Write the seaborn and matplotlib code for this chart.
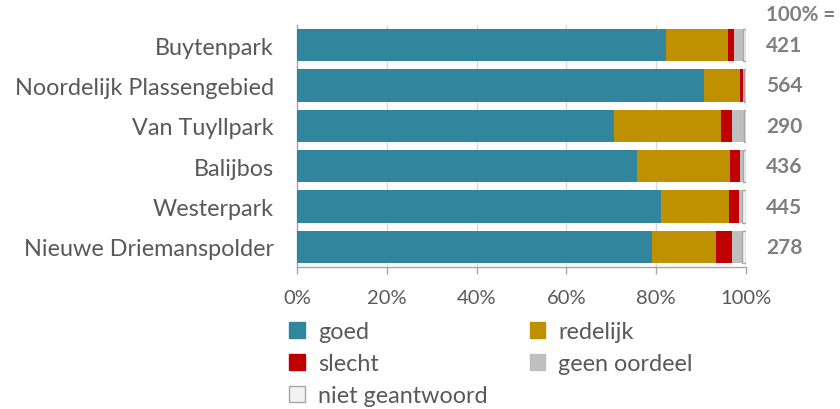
import matplotlib
matplotlib.use("Agg")
import matplotlib.pyplot as plt
from matplotlib.patches import Patch
from matplotlib.ticker import PercentFormatter
import numpy as np
import seaborn as sns

# ---------- DATA ----------
parks = ["Buytenpark", "Noordelijk Plassengebied", "Van Tuyllpark",
         "Balijbos", "Westerpark", "Nieuwe Driemanspolder"]
totals = [421, 564, 290, 436, 445, 278]

categories = ["goed", "redelijk", "slecht", "geen oordeel", "niet geantwoord"]
goed = [82.1, 90.6, 70.5, 75.8, 81.1, 79.1]
redelijk = [13.8, 8.0, 23.9, 20.6, 15.2, 14.2]
slecht = [1.5, 0.7, 2.5, 2.3, 2.1, 3.6]
geen_oordeel = [1.9, 0.3, 2.6, 0.6, 0.8, 2.3]
niet_geantwoord = [0.7, 0.4, 0.5, 0.7, 0.8, 0.8]

colors = ["#31859C", "#BF9000", "#C00000", "#BFBFBF", "#F2F2F2"]
edges = ["none", "none", "none", "none", "#A6A6A6"]

# ---------- PLOT ----------
sns.set_theme(style="white")
plt.rcParams["font.family"] = ["Lato", "DejaVu Sans"]
TXT = "#595959"

fig, ax = plt.subplots(figsize=(8.4, 4.1), dpi=100)
fig.subplots_adjust(left=0.354, right=0.888, top=0.937, bottom=0.346)

series = [goed, redelijk, slecht, geen_oordeel, niet_geantwoord]
left = np.zeros(len(parks))
for vals, col, ec in zip(series, colors, edges):
    sns.barplot(x=vals, y=parks, orient="h", color=col, left=left,
                width=0.8, edgecolor=ec, linewidth=1.0 if ec != "none" else 0,
                saturation=1, ax=ax, zorder=3)
    left = left + np.array(vals)

ax.set_xlim(0, 100)
ax.set_ylim(5.5, -0.5)
ax.set_xticks(range(0, 101, 20))
ax.xaxis.set_major_formatter(PercentFormatter(decimals=0))
ax.grid(axis="x", color="#D9D9D9", linewidth=1, zorder=0)
ax.set_xlabel("")
ax.set_ylabel("")

for s in ["top", "right"]:
    ax.spines[s].set_visible(False)
for s in ["left", "bottom"]:
    ax.spines[s].set_color("#A6A6A6")
    ax.spines[s].set_linewidth(1)

ax.tick_params(axis="x", colors="#A6A6A6", labelcolor=TXT, labelsize=14.5,
               length=5, width=1, direction="out", bottom=True, pad=11)
ax.tick_params(axis="y", labelcolor=TXT, labelsize=16.8, length=0, pad=17)

# totals on the right
ax.text(1.045, 1.005, "100% =", transform=ax.transAxes, ha="left", va="bottom",
        fontsize=14.8, fontweight="bold", color="#7F7F7F")
for i, n in enumerate(totals):
    ax.text(104.5, i, str(n), ha="left", va="center", fontsize=15,
            fontweight="bold", color="#7F7F7F", clip_on=False)

# legend filled row by row: goed, redelijk / slecht, geen oordeel / niet geantwoord
handles = [Patch(facecolor=c, edgecolor=(e if e != "none" else c), linewidth=1)
           for c, e in zip(colors, edges)]
order = [0, 2, 4, 1, 3]
ax.legend([handles[i] for i in order], [categories[i] for i in order],
          ncol=2, loc="upper left", bbox_to_anchor=(-0.018, -0.224),
          frameon=False, fontsize=16.8, labelcolor=TXT,
          handlelength=0.68, handleheight=0.68, handletextpad=0.55,
          columnspacing=1.8, labelspacing=0.46, borderpad=0, borderaxespad=0)

fig.savefig("out.png", dpi=100)
